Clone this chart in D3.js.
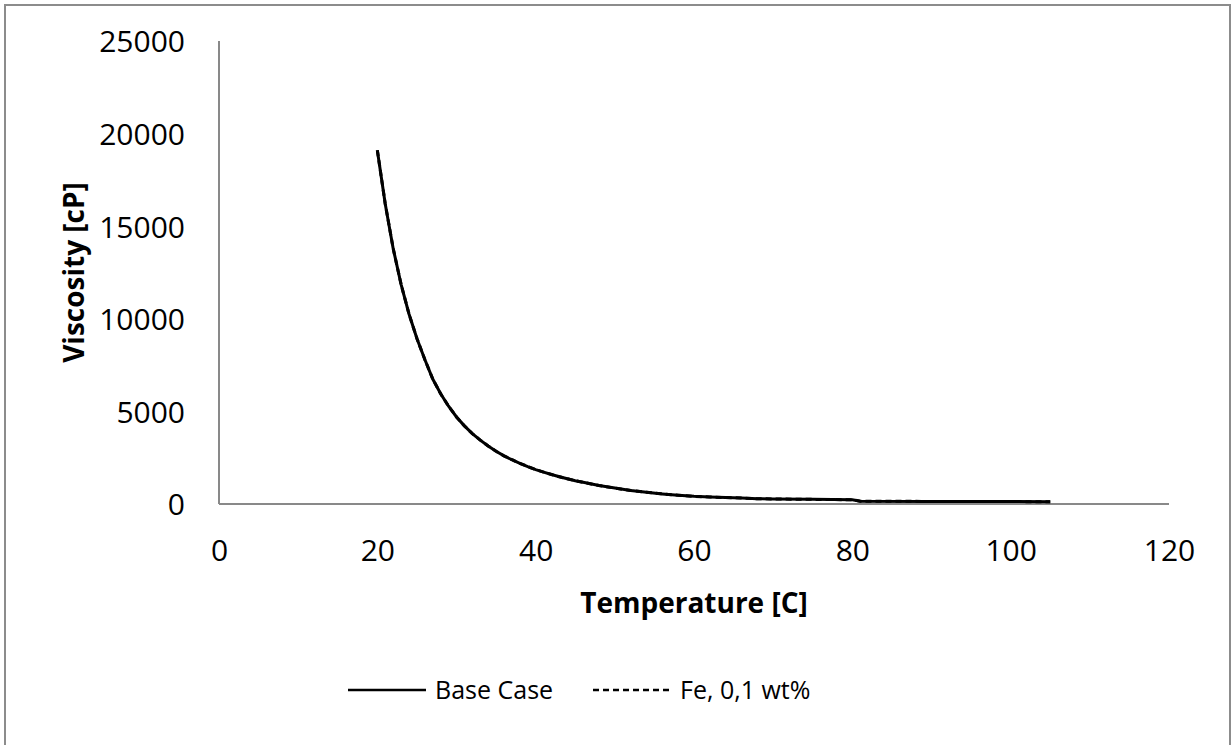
<!DOCTYPE html>
<html>
<head>
<meta charset="utf-8">
<script src="https://cdn.jsdelivr.net/npm/d3@7"></script>
<style>
  body { margin: 0; background: #fff; }
  svg { display: block; font-family: "Open Sans", sans-serif; }
</style>
</head>
<body>
<script>
// temperature [C] and viscosity [cP]
let temperature = [20, 21, 22, 23, 24, 25, 26, 27, 28, 29, 30, 31, 32, 33, 34, 35, 36, 37, 38, 39, 40,
    41, 42, 43, 44, 45, 46, 48, 50, 52, 54, 56, 58, 60, 62, 64, 66, 68, 70, 75, 80, 81, 90, 100, 105];
let base_case = [19100, 16200, 13800, 11860, 10260, 8940, 7800, 6750, 5950, 5280, 4700, 4220, 3800, 3450, 3130, 2850, 2600, 2390, 2200, 2020, 1860,
    1720, 1590, 1470, 1360, 1260, 1170, 1000, 860, 730, 630, 545, 475, 415, 380, 350, 320, 285, 270, 250, 230, 150, 140, 130, 125];
// the Fe curve sits right under the base case one
let fe_01 = base_case.slice();

let x_ticks = [0, 20, 40, 60, 80, 100, 120];
let y_ticks = [0, 5000, 10000, 15000, 20000, 25000];

let series = [
    {name: "Base Case", values: base_case, dash: null},
    {name: "Fe, 0,1 wt%", values: fe_01, dash: "6,4"}
];

let width = 1232;
let height = 745;
let padding = {
    left: 219,
    right: 63,
    top: 41,
    bottom: 241
};

let svg = d3.select("body").append("svg")
    .attr("width", width)
    .attr("height", height);

// outer chart border
svg.append("rect")
    .attr("x", 5)
    .attr("y", 5)
    .attr("width", 1225)
    .attr("height", 760)
    .attr("fill", "none")
    .attr("stroke", "#8c8c8c")
    .attr("stroke-width", 2);

let x = d3.scaleLinear().domain([0, 120]).range([padding.left, width - padding.right]);
let y = d3.scaleLinear().domain([0, 25000]).range([height - padding.bottom, padding.top]);

let x_axis = svg.append("g")
    .attr("transform", "translate(0," + y(0) + ")")
    .call(d3.axisBottom(x).tickValues(x_ticks).tickSize(0).tickPadding(36));
let y_axis = svg.append("g")
    .attr("transform", "translate(" + x(0) + ",0)")
    .call(d3.axisLeft(y).tickValues(y_ticks).tickSize(0).tickPadding(34).tickFormat(d3.format("d")));

for (let ax of [x_axis, y_axis]) {
    ax.select(".domain").attr("stroke", "#898989").attr("stroke-width", 2);
    ax.selectAll("text")
        .style("font-family", "'Open Sans', sans-serif")
        .style("font-size", "30px")
        .attr("fill", "#000");
}
y_axis.selectAll("text").attr("dy", "0.36em");
y_axis.select(".domain").attr("d", "M0," + y(25000) + "V" + y(0));
x_axis.select(".domain").attr("d", "M" + x(0) + ",0H" + x(120));

// axis titles
svg.append("text")
    .attr("x", (x(0) + x(120)) / 2)
    .attr("y", 613)
    .style("text-anchor", "middle")
    .style("font-size", "28px")
    .style("font-weight", "bold")
    .text("Temperature [C]");

svg.append("text")
    .attr("transform", "translate(84," + (y(0) + y(25000)) / 2 + ") rotate(-90)")
    .style("text-anchor", "middle")
    .style("font-size", "28px")
    .style("font-weight", "bold")
    .text("Viscosity [cP]");

let line = d3.line()
    .x((d, i) => x(temperature[i]))
    .y(d => y(d));

// draw the dashed one first so the base case ends up on top
for (let s of series.slice().reverse()) {
    svg.append("path")
        .attr("d", line(s.values))
        .attr("fill", "none")
        .attr("stroke", "#000")
        .attr("stroke-width", 3)
        .attr("stroke-dasharray", s.dash);
}

// legend
let legend_x = [348, 593];
series.forEach((s, i) => {
    svg.append("line")
        .attr("x1", legend_x[i])
        .attr("x2", legend_x[i] + 78)
        .attr("y1", 690)
        .attr("y2", 690)
        .attr("stroke", "#000")
        .attr("stroke-width", 2.5)
        .attr("stroke-dasharray", s.dash);
    svg.append("text")
        .attr("x", legend_x[i] + 87)
        .attr("y", 690)
        .attr("dy", "0.36em")
        .style("font-size", "25px")
        .text(s.name);
});
</script>
</body>
</html>
